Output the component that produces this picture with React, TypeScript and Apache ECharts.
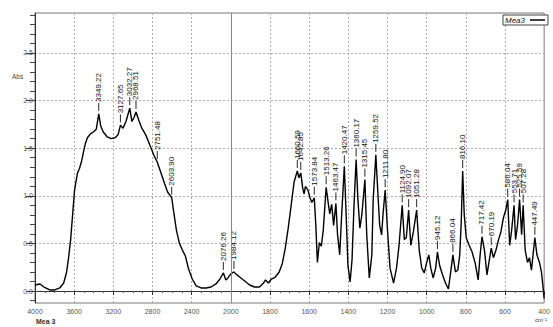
import React, { useEffect, useRef } from "react";
import * as echarts from "echarts";

const seriesName = "Mea3";
const sampleLabel = "Mea 3";
const unitLabel = "cm⁻¹";
const yAxisTitle = "Abs";

const wavenumbers = [4000,3949,3909,3848,3798,3747,3707,3677,3657,3636,3616,3596,3566,3545,3525,3505,3485,3465,3434,3404,3374,3349.22,3328,3303,3263,3222,3182,3152,3127.65,3101,3071,3032.27,3010,2990,2968.51,2939,2909,2869,2818,2788,2751.48,2737,2707,2677,2646,2603.9,2586,2556,2525,2495,2465,2434,2394,2354,2303,2253,2202,2152,2111,2076.26,2051,2030,2000,1984.12,1975,1955,1929,1904,1879,1854,1833,1823,1808,1793,1773,1753,1737,1722,1707,1692,1677,1660.59,1652,1642.85,1633,1626,1619,1606,1596,1586,1573.84,1566,1558,1548,1538,1528,1513.26,1505,1495,1485,1475,1463.47,1455,1444,1434,1420.47,1412,1402,1391,1381,1371,1360.17,1351,1341,1331,1315.45,1306,1293,1280,1273,1259.52,1250,1240,1230,1222,1211.8,1200,1187,1169,1154,1141,1124.9,1114,1104,1092.07,1081,1068,1051.28,1038,1025,1012,1000,989,979,967,954,945.12,934,919,904,889,876,866.04,853,841,831,823,816.1,808,798,783,768,752,737,727,717.42,705,692,682,670.19,659,646,633,621,608,596,586.04,576,566,553.71,546,536,525.59,515,507.28,497,485,475,465,447.49,437,424,414,404,400];

const absorbance = [0.063,0.074,0.042,0.011,0.011,0.032,0.084,0.2,0.35,0.54,0.8,1.06,1.24,1.29,1.36,1.46,1.55,1.61,1.65,1.67,1.7,1.86,1.73,1.67,1.62,1.6,1.61,1.64,1.74,1.71,1.78,1.92,1.78,1.82,1.88,1.79,1.71,1.64,1.51,1.43,1.355,1.31,1.22,1.13,1.04,0.98,0.85,0.64,0.5,0.43,0.37,0.24,0.126,0.053,0.032,0.032,0.042,0.074,0.126,0.19,0.116,0.137,0.18,0.2,0.18,0.147,0.105,0.063,0.042,0.042,0.084,0.116,0.084,0.126,0.147,0.2,0.29,0.45,0.66,0.9,1.145,1.26,1.19,1.24,1.08,1.02,1.1,1.06,0.98,0.93,0.98,0.69,0.3,0.51,0.47,0.64,1.09,0.96,0.81,0.91,0.69,0.92,0.59,0.38,0.8,1.31,0.85,0.27,0.095,0.33,0.9,1.38,0.96,0.66,0.8,1.17,0.59,0.137,0.38,0.96,1.43,1.06,0.69,0.59,0.83,1.06,0.64,0.24,0.084,0.24,0.48,0.9,0.54,0.56,0.85,0.48,0.62,0.85,0.43,0.24,0.19,0.3,0.38,0.24,0.137,0.24,0.41,0.27,0.17,0.084,0.021,0.22,0.38,0.2,0.22,0.38,0.75,1.26,0.8,0.56,0.48,0.41,0.29,0.116,0.38,0.57,0.43,0.17,0.3,0.45,0.35,0.43,0.54,0.62,0.77,0.85,0.96,0.48,0.64,0.9,0.54,0.69,0.96,0.59,0.9,0.43,0.3,0.35,0.22,0.56,0.38,0.3,0.2,0.01,-0.08];

const peakWavenumbers = [3349.22,3127.65,3032.27,2968.51,2751.48,2603.9,2076.26,1984.12,1660.59,1642.85,1573.84,1513.26,1463.47,1420.47,1360.17,1315.45,1259.52,1211.8,1124.9,1092.07,1051.28,945.12,866.04,816.1,717.42,670.19,586.04,553.71,525.59,507.28,447.49];

const xTickLabels = ["4000","3600","3200","2800","2400","2000","1800","1600","1400","1200","1000","800","600","400"];
const yTickValues = [0, 0.5, 1, 1.5, 2, 2.5];
const yMinorTickValues = [-0.1,0.1,0.2,0.3,0.4,0.6,0.7,0.8,0.9,1.1,1.2,1.3,1.4,1.6,1.7,1.8,1.9,2.1,2.2,2.3,2.4,2.6,2.7,2.8,2.9];

// The instrument's x axis changes scale at 2000 cm-1 (400 per division above, 200 below).
function toAxis(w: number): number {
  return w >= 2000 ? (4000 - w) / 400 : 5 + (2000 - w) / 200;
}

const FONT = "'Liberation Sans', Arial, sans-serif";

export default function App() {
  const ref = useRef<HTMLDivElement>(null);
  useEffect(() => {
    if (!ref.current) return;
    const chart = echarts.init(ref.current, undefined, { renderer: "svg" });
    const lineData = wavenumbers.map((w, i) => [toAxis(w), absorbance[i]]);
    const peakData = peakWavenumbers.map((w) => {
      const idx = wavenumbers.indexOf(w);
      return [toAxis(w), absorbance[idx], w.toFixed(2)];
    });
    const isMajor = (v: number) => yTickValues.some((t) => Math.abs(t - v) < 1e-6);
    chart.setOption({
      animation: false,
      backgroundColor: "#ffffff",
      grid: { left: 35, right: 4, top: 13, bottom: 24, show: true, borderColor: "#777", borderWidth: 1 },
      legend: {
        data: [seriesName],
        right: 5,
        top: 15,
        align: "right",
        icon: "rect",
        itemWidth: 15,
        itemHeight: 1.5,
        itemGap: 4,
        padding: [1, 3, 1, 2],
        borderColor: "#444",
        borderWidth: 1,
        backgroundColor: "#fff",
        itemStyle: { color: "#000" },
        textStyle: { fontSize: 8, fontStyle: "italic", color: "#111", fontFamily: FONT, padding: [0, 0, 0, 0] },
      },
      xAxis: {
        type: "value",
        min: 0,
        max: 13,
        interval: 1,
        axisLine: { show: true, lineStyle: { color: "#333", width: 1 } },
        axisTick: { show: true, length: 4, lineStyle: { color: "#333" } },
        minorTick: { show: true, splitNumber: 4, length: 2, lineStyle: { color: "#555" } },
        axisLabel: {
          fontSize: 7,
          color: "#555",
          fontFamily: FONT,
          margin: 5,
          formatter: (v: number) => xTickLabels[Math.round(v)] ?? "",
        },
        splitLine: { show: true, lineStyle: { color: "#aaa", type: [2, 2], width: 1 } },
      },
      yAxis: [
        {
          type: "value",
          position: "left",
          min: -0.126,
          max: 2.92,
          minInterval: 0.5,
          maxInterval: 0.5,
          axisLine: { show: true, lineStyle: { color: "#333", width: 1 } },
          axisTick: { show: true, length: 9, customValues: yTickValues, lineStyle: { color: "#333" } },
          axisLabel: {
            fontSize: 7,
            color: "#555",
            fontFamily: FONT,
            margin: 2,
            showMinLabel: false,
            showMaxLabel: false,
            formatter: (v: number) => (isMajor(v) ? v.toFixed(1) : ""),
          },
          splitLine: { show: true, lineStyle: { color: "#aaa", type: [2, 2], width: 1 } },
        },
        {
          type: "value",
          position: "left",
          min: -0.126,
          max: 2.92,
          axisLine: { show: false },
          axisTick: { show: true, length: 5, customValues: yMinorTickValues, lineStyle: { color: "#444" } },
          axisLabel: { show: false },
          splitLine: { show: false },
        },
      ],
      graphic: [
        { type: "text", left: 12, top: 73, style: { text: yAxisTitle, fontSize: 6.5, fill: "#444", fontFamily: FONT } },
        { type: "text", left: 36, top: 318, style: { text: sampleLabel, fontSize: 7, fontWeight: "bold", fill: "#333", fontFamily: FONT } },
        { type: "text", left: 535, top: 317, style: { text: unitLabel, fontSize: 6, fill: "#333", fontFamily: FONT } },
      ],
      series: [
        {
          name: seriesName,
          type: "line",
          data: lineData,
          symbol: "none",
          showSymbol: false,
          lineStyle: { color: "#000", width: 1.4 },
          itemStyle: { color: "#000" },
          markLine: {
            silent: true,
            symbol: "none",
            label: { show: false },
            lineStyle: { color: "#888", type: "solid", width: 1 },
            data: [{ xAxis: toAxis(2000) }],
          },
          z: 3,
        },
        {
          name: "peaks",
          type: "custom",
          clip: false,
          data: peakData,
          encode: { x: 0, y: 1 },
          z: 4,
          renderItem: (params: any, api: any) => {
            const p = api.coord([api.value(0), api.value(1)]);
            const label = peakData[params.dataIndex][2] as string;
            return {
              type: "group",
              children: [
                {
                  type: "line",
                  shape: { x1: p[0], y1: p[1] - 3, x2: p[0], y2: p[1] - 11 },
                  style: { stroke: "#111", lineWidth: 0.9 },
                },
                {
                  type: "text",
                  x: p[0],
                  y: p[1] - 12,
                  rotation: Math.PI / 2,
                  style: {
                    text: label,
                    fill: "#111",
                    fontSize: 8,
                    fontFamily: FONT,
                    align: "left",
                    verticalAlign: "middle",
                  },
                },
              ],
            };
          },
        },
      ],
    });
    return () => chart.dispose();
  }, []);
  return (
    <div
      ref={ref}
      style={{ position: "absolute", left: 0, top: 0, width: 553, height: 327 }}
    />
  );
}
